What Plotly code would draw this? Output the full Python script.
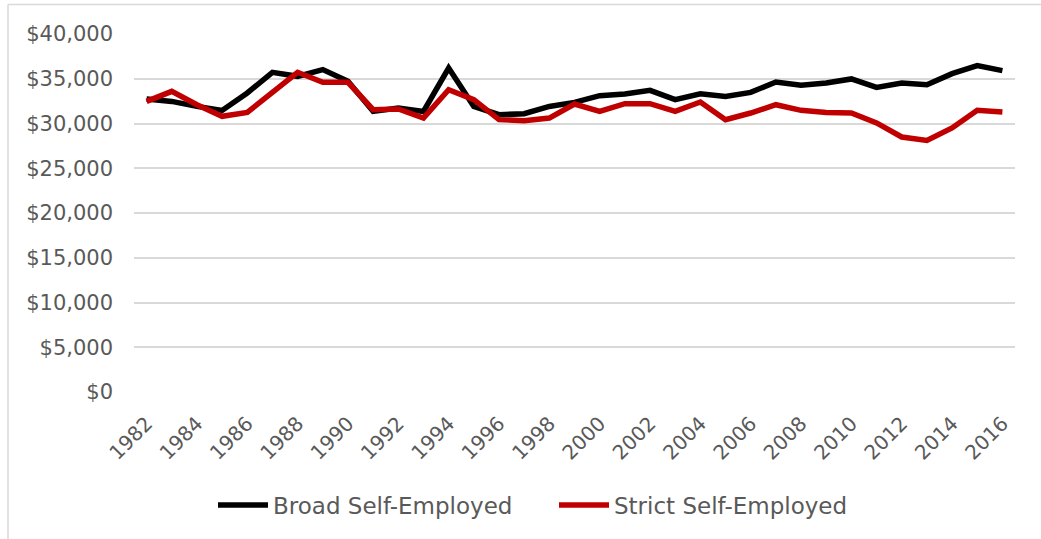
import plotly.graph_objects as go

years = list(range(1982, 2017))
broad = [32740, 32470, 31910, 31460, 33410, 35720, 35270, 36020, 34710, 31350,
         31730, 31350, 36200, 31910, 30980, 31090, 31910, 32360, 33110, 33300,
         33700, 32660, 33330, 33030, 33480, 34640, 34270, 34530, 34980, 34040,
         34530, 34340, 35570, 36470, 35910]
strict = [32470, 33590, 32100, 30800, 31240, 33480, 35720, 34600, 34600, 31540,
          31620, 30610, 33780, 32660, 30430, 30310, 30610, 32180, 31350, 32210,
          32210, 31350, 32400, 30430, 31170, 32100, 31470, 31240, 31170, 30060,
          28490, 28110, 29500, 31470, 31290]
y_ticks = [0, 5000, 10000, 15000, 20000, 25000, 30000, 35000, 40000]
y_labels = ["$0", "$5,000", "$10,000", "$15,000", "$20,000", "$25,000",
            "$30,000", "$35,000", "$40,000"]
x_ticks = list(range(1982, 2017, 2))
series_names = ["Broad Self-Employed", "Strict Self-Employed"]

W, H = 1041, 539
ml, mr, mt, mb = 134, 26, 34, 147
text_color = "#595959"
font_family = "DejaVu Sans"

fig = go.Figure()
fig.add_trace(go.Scatter(x=years, y=broad, mode="lines",
                         name=series_names[0] + "\u00a0" * 5,
                         line=dict(color="#000000", width=5.5)))
fig.add_trace(go.Scatter(x=years, y=strict, mode="lines", name=series_names[1],
                         line=dict(color="#C00000", width=5.5)))

pw = W - ml - mr
ph = H - mt - mb

def px_x(p):
    return (p - ml) / pw

def px_y(p):
    return (H - mb - p) / ph

# outer chart border (left and top visible)
fig.add_shape(type="line", xref="paper", yref="paper",
              x0=px_x(8), x1=px_x(8), y0=px_y(4.5), y1=px_y(545),
              line=dict(color="#D9D9D9", width=1.5))
fig.add_shape(type="line", xref="paper", yref="paper",
              x0=px_x(8), x1=px_x(1050), y0=px_y(4.5), y1=px_y(4.5),
              line=dict(color="#D9D9D9", width=1.5))

fig.update_layout(
    width=W, height=H,
    margin=dict(l=ml, r=mr, t=mt, b=mb, pad=0),
    paper_bgcolor="white", plot_bgcolor="white",
    font=dict(family=font_family, color=text_color, size=20),
    showlegend=True,
    legend=dict(orientation="h", x=px_x(213), y=px_y(505),
                xanchor="left", yanchor="middle",
                font=dict(size=23, color=text_color, family=font_family),
                itemwidth=50, tracegroupgap=0),
)
fig.update_xaxes(range=[1981.5, 2016.5], tickmode="array", tickvals=x_ticks,
                 ticktext=[str(v) for v in x_ticks], tickangle=-45,
                 showgrid=False, zeroline=False, showline=False, ticks="",
                 tickfont=dict(size=20, color=text_color), ticklabelstandoff=15)
fig.update_yaxes(range=[0, 40000], tickmode="array", tickvals=y_ticks,
                 ticktext=y_labels, showgrid=True, gridcolor="#D9D9D9",
                 gridwidth=1.5, zeroline=False, showline=False, ticks="",
                 tickfont=dict(size=21, color=text_color), ticklabelstandoff=20)

fig.write_html("out.html", config={"displayModeBar": False},
               post_script="document.body.style.margin='0';document.body.style.overflow='hidden';")
